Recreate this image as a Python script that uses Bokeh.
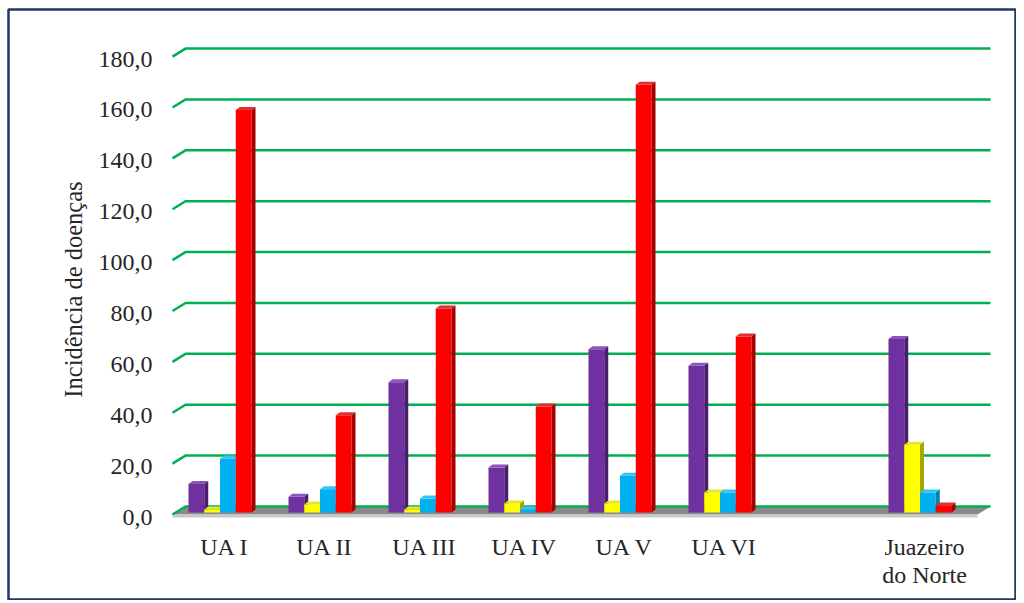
import math
from bokeh.plotting import figure
from bokeh.models import Range1d
from bokeh.core.properties import value
from bokeh.embed import file_html
from bokeh.resources import INLINE

# ---------------- data ----------------
categories = ["UA I", "UA II", "UA III", "UA IV", "UA V", "UA VI", "", "Juazeiro\ndo Norte"]
serie_roxa = [10.0, 5.0, 50.0, 16.5, 63.0, 56.5, None, 67.0]
serie_amarela = [0.0, 2.0, 0.0, 2.4, 2.4, 6.7, None, 25.5]
serie_azul = [20.0, 8.0, 4.3, 0.0, 13.3, 6.7, None, 6.7]
serie_vermelha = [157.0, 37.0, 79.0, 40.5, 167.0, 68.0, None, 1.6]
y_ticks = [0, 20, 40, 60, 80, 100, 120, 140, 160, 180]
y_tick_labels = ["0,0", "20,0", "40,0", "60,0", "80,0", "100,0", "120,0", "140,0", "160,0", "180,0"]
y_title = "Incidência de doenças"

series = [
    (serie_roxa, "#7030A0", "#8E52BC", "#4A1E6E"),
    (serie_amarela, "#FFFF00", "#E6E62E", "#A6A600"),
    (serie_azul, "#00B0F0", "#33C4F5", "#0080B0"),
    (serie_vermelha, "#FF0000", "#E03030", "#A80000"),
]

# ---------------- geometry (pixel scales) ----------------
W, H = 1016, 600
ML, MT = 8, 9            # space before the bordered frame
FW, FH = W - ML, H - MT  # frame size
PX_X = 100.0      # pixels per category
PX_Y = 2.544      # pixels per unit of value
x0 = -(224 - ML) / PX_X
y1 = (506 - MT) / PX_Y
p = figure(width=W, height=H, output_backend="svg", toolbar_location=None,
           x_axis_type=None, y_axis_type=None,
           x_range=Range1d(x0, x0 + FW / PX_X), y_range=Range1d(y1 - FH / PX_Y, y1),
           min_border=0, min_border_left=ML, min_border_right=0,
           min_border_top=MT, min_border_bottom=0)
p.grid.visible = False
p.outline_line_color = "#1F3864"
p.outline_line_width = 2.5
p.background_fill_color = "white"
p.border_fill_color = "white"

def px_x(dpx):
    return dpx / PX_X

def px_y(dpx):
    return dpx / PX_Y

grid_left = px_x(185 - 224)
grid_right = px_x(990 - 224)
front_dx = px_x(-13)
front_dy = px_y(-8)

# floor
p.patch([grid_left + front_dx, grid_left, grid_right, grid_right + front_dx],
        [front_dy, 0.0, 0.0, front_dy],
        fill_color="#8A8A8A", line_color=None)
p.patch([grid_left + front_dx, grid_right + front_dx, grid_right + front_dx, grid_left + front_dx],
        [front_dy, front_dy, front_dy - px_y(3), front_dy - px_y(3)],
        fill_color="#C8C8C8", line_color=None)

# gridlines (back wall lines + short diagonal)
gx, gy = [], []
for t in y_ticks:
    gx.append([grid_left + front_dx, grid_left, grid_right])
    gy.append([t + front_dy, t, t])
p.multi_line(gx, gy, line_color="#00B050", line_width=2.5)

# tick labels
p.text(x=[px_x(152 - 224)] * len(y_ticks), y=[t + px_y(-10.5) for t in y_ticks], text=y_tick_labels,
       text_align="right", text_baseline="middle", text_font=value("Liberation Serif"),
       text_font_size="24px", text_color="#262626")

# y title
p.text(x=[px_x(73 - 224)], y=[px_y(506 - 289)], text=[y_title], angle=math.pi / 2,
       text_align="center", text_baseline="middle", text_font=value("Liberation Serif"),
       text_font_size="24.5px", text_color="#262626")

# category labels
lx, ly, lt = [], [], []
for i, c in enumerate(categories):
    for k, line in enumerate(c.split("\n")):
        if line:
            lx.append(i)
            ly.append(px_y(506 - 546 - 28 * k))
            lt.append(line)
p.text(x=lx, y=ly, text=lt, text_align="center", text_baseline="middle",
       text_font=value("Liberation Serif"), text_font_size="24px", text_color="#262626")

# bars (3D look)
bw = px_x(15.75)
dxb = px_x(4)
dyb = px_y(3)
base = px_y(-6)
for s, (vals, c_front, c_top, c_side) in enumerate(series):
    off = px_x(-4.5) + (s - 1.5) * bw
    L, R, T, B = [], [], [], []
    topx, topy, sidex, sidey = [], [], [], []
    for i, v in enumerate(vals):
        if v is None:
            continue
        xc = i + off
        l, r = xc - bw / 2, xc + bw / 2
        t = v - dyb
        L.append(l); R.append(r); T.append(t); B.append(base)
        topx.append([l, l + dxb, r + dxb, r])
        topy.append([t, t + dyb, t + dyb, t])
        sidex.append([r, r, r + dxb, r + dxb])
        sidey.append([base, t, t + dyb, base + dyb])
    p.quad(left=L, right=R, top=T, bottom=B, fill_color=c_front, line_color=None)
    p.patches(topx, topy, fill_color=c_top, line_color=None)
    p.patches(sidex, sidey, fill_color=c_side, line_color=None)

open("out.html", "w").write(file_html(p, INLINE))
